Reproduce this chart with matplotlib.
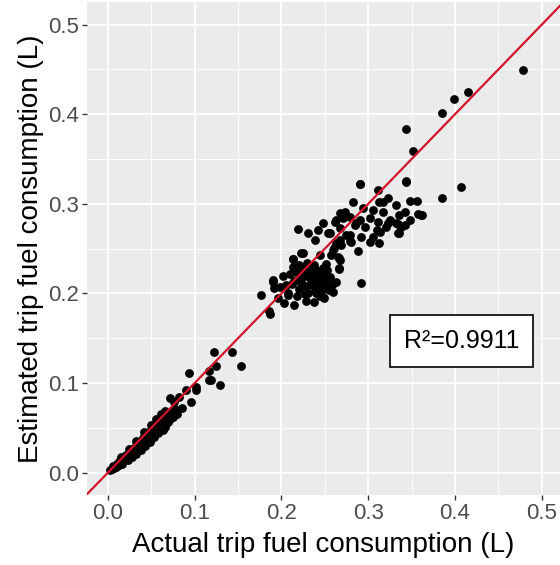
import numpy as np
import matplotlib
matplotlib.use("Agg")
import matplotlib.pyplot as plt
from matplotlib.ticker import MultipleLocator

plt.rcParams['font.family'] = ['Liberation Sans', 'DejaVu Sans']

# low band of short trips (actual, estimated)
low_x = [0.003, 0.005, 0.006, 0.007, 0.008, 0.009, 0.010, 0.011, 0.012, 0.013,
         0.014, 0.015, 0.016, 0.017, 0.018, 0.019, 0.020, 0.021, 0.022, 0.023,
         0.024, 0.025, 0.026, 0.027, 0.028, 0.029, 0.030, 0.031, 0.032, 0.033,
         0.034, 0.035, 0.036, 0.037, 0.038, 0.039, 0.040, 0.041, 0.042, 0.043,
         0.044, 0.045, 0.046, 0.047, 0.048, 0.049, 0.050, 0.051, 0.052, 0.053,
         0.054, 0.055, 0.056, 0.057, 0.058, 0.059, 0.060, 0.061, 0.062, 0.063,
         0.064, 0.065, 0.066, 0.067, 0.068, 0.070, 0.072, 0.073, 0.075, 0.077,
         0.080, 0.015, 0.024, 0.033, 0.042, 0.050, 0.056, 0.061, 0.066, 0.029,
         0.038, 0.047, 0.055, 0.062, 0.069]
low_y = [0.003, 0.004, 0.007, 0.005, 0.008, 0.006, 0.010, 0.008, 0.011, 0.009,
         0.014, 0.012, 0.010, 0.016, 0.013, 0.018, 0.015, 0.020, 0.017, 0.014,
         0.022, 0.019, 0.025, 0.021, 0.017, 0.026, 0.023, 0.029, 0.026, 0.021,
         0.031, 0.028, 0.034, 0.030, 0.025, 0.036, 0.033, 0.039, 0.035, 0.030,
         0.041, 0.038, 0.044, 0.040, 0.034, 0.046, 0.043, 0.049, 0.045, 0.040,
         0.051, 0.047, 0.055, 0.050, 0.044, 0.054, 0.059, 0.052, 0.058, 0.048,
         0.062, 0.056, 0.051, 0.063, 0.058, 0.065, 0.060, 0.068, 0.062, 0.071,
         0.066, 0.017, 0.026, 0.035, 0.045, 0.053, 0.060, 0.065, 0.069, 0.020,
         0.029, 0.037, 0.045, 0.054, 0.057]

# medium trips
mid_x = [0.0714, 0.076, 0.082, 0.0849, 0.0953, 0.0906, 0.093, 0.1014, 0.102,
         0.1167, 0.1167, 0.119, 0.125, 0.129, 0.122, 0.143, 0.1536,
         0.177, 0.1874, 0.190]
mid_y = [0.083, 0.079, 0.084, 0.0719, 0.0793, 0.0923, 0.111, 0.096, 0.092,
         0.1138, 0.1035, 0.1035, 0.119, 0.098, 0.1347, 0.1347, 0.119,
         0.198, 0.177, 0.213]

# lower part of the long-trip cluster
clus_x = [0.190, 0.192, 0.186, 0.2016, 0.2131, 0.2227, 0.2074, 0.2035, 0.215,
          0.228, 0.238, 0.2496, 0.2592, 0.263, 0.2477, 0.2669, 0.2669, 0.261,
          0.238, 0.205, 0.210, 0.215, 0.220, 0.225, 0.230, 0.235, 0.240, 0.245,
          0.250, 0.255, 0.208, 0.213, 0.218, 0.223, 0.228, 0.233, 0.238, 0.243,
          0.248, 0.253, 0.258, 0.212, 0.217, 0.222, 0.227, 0.232, 0.237, 0.242,
          0.247, 0.252, 0.220, 0.226, 0.231, 0.236, 0.241, 0.246, 0.251, 0.256,
          0.224, 0.229, 0.234, 0.239, 0.244, 0.249, 0.198, 0.196, 0.2135, 0.225]
clus_y = [0.215, 0.206, 0.180, 0.219, 0.239, 0.2449, 0.1983, 0.189, 0.1872,
          0.192, 0.1908, 0.1946, 0.202, 0.213, 0.228, 0.228, 0.2393, 0.2504,
          0.2318, 0.210, 0.222, 0.214, 0.205, 0.228, 0.219, 0.210, 0.200, 0.222,
          0.213, 0.204, 0.200, 0.230, 0.197, 0.217, 0.208, 0.225, 0.216, 0.207,
          0.196, 0.219, 0.210, 0.211, 0.224, 0.213, 0.199, 0.220, 0.230, 0.225,
          0.217, 0.226, 0.232, 0.222, 0.201, 0.222, 0.213, 0.203, 0.233, 0.218,
          0.209, 0.234, 0.215, 0.205, 0.197, 0.208, 0.207, 0.195, 0.2382, 0.2455]

# upper part of the long-trip cluster
up_x = [0.2903, 0.344, 0.348, 0.3563, 0.361, 0.336, 0.348, 0.342, 0.336, 0.313,
        0.2615, 0.2826, 0.313, 0.323, 0.294, 0.306, 0.317, 0.273, 0.2673, 0.2788,
        0.290, 0.3018, 0.3114, 0.3249, 0.3326, 0.321, 0.3096, 0.296, 0.2845,
        0.2673, 0.2558, 0.2788, 0.292, 0.3056, 0.2807, 0.2634, 0.3134, 0.3018,
        0.2192, 0.2308, 0.2385, 0.248, 0.2423, 0.2538, 0.2634, 0.2711, 0.2442,
        0.2577, 0.2653, 0.2673, 0.2665, 0.2922, 0.2596, 0.2691, 0.2884, 0.2788,
        0.2673, 0.2749, 0.3172, 0.3326, 0.3421, 0.3575, 0.3344, 0.3383, 0.3344,
        0.2865, 0.3229]
up_y = [0.322, 0.325, 0.3036, 0.3036, 0.2876, 0.2876, 0.282, 0.2764, 0.267, 0.256,
        0.280, 0.3025, 0.3025, 0.306, 0.295, 0.293, 0.2913, 0.2913, 0.2895, 0.2857,
        0.282, 0.284, 0.280, 0.282, 0.2783, 0.2746, 0.2709, 0.2746, 0.2764,
        0.2727, 0.2671, 0.2653, 0.2634, 0.2634, 0.2578, 0.256, 0.269, 0.2578,
        0.272, 0.2679, 0.2597, 0.279, 0.2709, 0.2671, 0.282, 0.2839, 0.243,
        0.243, 0.241, 0.2374, 0.227, 0.2114, 0.2486, 0.2541, 0.2478, 0.259,
        0.2597, 0.2653, 0.3025, 0.2988, 0.2913, 0.2887, 0.2776, 0.2738, 0.2671,
        0.2783, 0.2783]

# longest trips
high_x = [0.478, 0.4147, 0.399, 0.3856, 0.3437, 0.3514, 0.3437, 0.4067, 0.3856,
          0.2907, 0.362, 0.311]
high_y = [0.449, 0.4252, 0.417, 0.401, 0.383, 0.359, 0.3248, 0.3192, 0.307,
          0.3219, 0.288, 0.3155]

actual = np.array(low_x + mid_x + clus_x + up_x + high_x)
estimated = np.array(low_y + mid_y + clus_y + up_y + high_y)
r2_text = "R²=0.9911"

fig = plt.figure(figsize=(5.6, 5.65), dpi=100)
ax = fig.add_axes([0.1554, 0.1239, 0.8446, 0.8726])
ax.set_facecolor('#EBEBEB')
for s in ax.spines.values():
    s.set_visible(False)

ax.set_xlim(-0.024, 0.521)
ax.set_ylim(-0.0249, 0.5253)
ax.xaxis.set_major_locator(MultipleLocator(0.1))
ax.yaxis.set_major_locator(MultipleLocator(0.1))
ax.xaxis.set_minor_locator(MultipleLocator(0.05))
ax.yaxis.set_minor_locator(MultipleLocator(0.05))
ax.grid(which='major', color='white', linewidth=1.3)
ax.grid(which='minor', color='white', linewidth=0.65)
ax.set_axisbelow(True)
ax.tick_params(which='major', length=3.5, width=1, color='#333333',
               labelcolor='#4D4D4D', labelsize=16, pad=2)
ax.tick_params(which='minor', length=0)

ax.scatter(actual, estimated, s=40, color='black', zorder=3, linewidths=0)
ax.plot([-0.1, 0.6], [-0.1, 0.6], color='#D2142A', linewidth=1.6, zorder=4)

ax.text(0.4075, 0.147, r2_text, fontsize=18, ha='center', va='center', zorder=5,
        bbox=dict(boxstyle='square,pad=0.55', facecolor='white',
                  edgecolor='black', linewidth=1.2))

ax.set_xlabel('Actual trip fuel consumption (L)', fontsize=20, labelpad=6)
ax.set_ylabel('Estimated trip fuel consumption (L)', fontsize=20, labelpad=3)

fig.savefig('out.png', dpi=100)
